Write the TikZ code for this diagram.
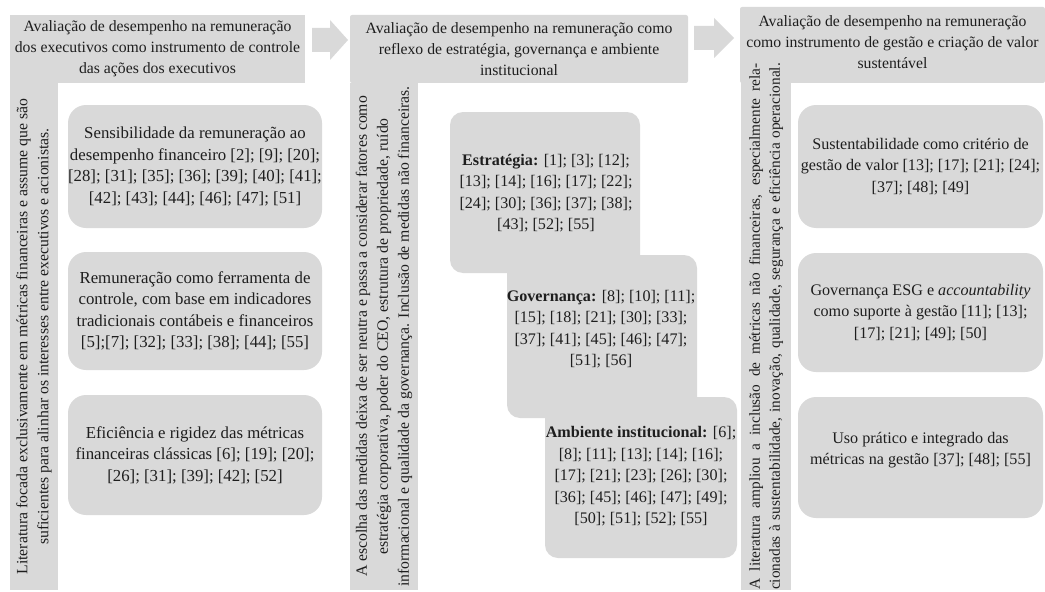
\documentclass[tikz,border=0pt]{standalone}
\usepackage{fontspec}
\setmainfont{Liberation Serif}
\newcommand{\pxu}{0.75pt}
\definecolor{boxgrey}{HTML}{D9D9D9}
\definecolor{inkgrey}{HTML}{1E1E1E}
\tikzset{
  base/.style={fill=boxgrey, text=inkgrey, inner sep=0pt, align=center,
    font=\fontsize{11.8}{15.75}\selectfont},
  header/.style={base, rounded corners=2*\pxu},
  bar/.style={base, rotate=90},
  rbox/.style={base, rounded corners=18*\pxu, font=\fontsize{12.1}{16.1}\selectfont},
  sbox/.style={base, rounded corners=13*\pxu, font=\fontsize{12.1}{16.1}\selectfont},
  txt/.style={text=inkgrey, inner sep=0pt, align=center, font=\fontsize{12.1}{16.1}\selectfont},
  bigtext/.style={font=\fontsize{12.6}{16.1}\selectfont},
  blockarrow/.style={fill=boxgrey}
}
\begin{document}
\begin{tikzpicture}[x=0.75pt, y=-0.75pt]
\useasboundingbox (0,0) rectangle (1045,592);

% ---------- column 1 ----------
\node[bar, minimum width=507*\pxu, minimum height=48*\pxu] (bar1) at (34,336.5)
  {Literatura focada exclusivamente em métricas financeiras e assume que são\\
   suficientes para alinhar os interesses entre executivos e acionistas.};
\node[header, rounded corners=0pt, minimum width=295*\pxu, minimum height=68*\pxu] (h1) at (157.5,49)
  {Avaliação de desempenho na remuneração\\dos executivos como instrumento de controle\\das ações dos executivos};

\node[rbox, bigtext, minimum width=254*\pxu, minimum height=123*\pxu] (b1) at (195,166.5)
  {Sensibilidade da remuneração ao\\desempenho financeiro [2]; [9]; [20];\\{}[28]; [31]; [35]; [36]; [39]; [40]; [41];\\{}[42]; [43]; [44]; [46]; [47]; [51]};
\node[rbox, bigtext, minimum width=254*\pxu, minimum height=118*\pxu] (b2) at (195,311)
  {Remuneração como ferramenta de\\controle, com base em indicadores\\tradicionais contábeis e financeiros\\{}[5];[7]; [32]; [33]; [38]; [44]; [55]};
\node[rbox, bigtext, minimum width=254*\pxu, minimum height=120*\pxu] (b3) at (195,455)
  {Eficiência e rigidez das métricas\\financeiras clássicas [6]; [19]; [20];\\{}[26]; [31]; [39]; [42]; [52]};

% arrow 1
\fill[blockarrow] (312,28) -- (330,28) -- (330,20) -- (348,40) -- (330,60) -- (330,52) -- (312,52) -- cycle;

% ---------- column 2 ----------
\node[bar, minimum width=507*\pxu, minimum height=68*\pxu] (bar2) at (384,336.5)
  {A escolha das medidas deixa de ser neutra e passa a considerar fatores como\\
   estratégia corporativa, poder do CEO, estrutura de propriedade, ruído\\
   informacional e qualidade da governança. Inclusão de medidas não financeiras.};
\node[header, minimum width=338*\pxu, minimum height=68*\pxu] (h2) at (519,49)
  {Avaliação de desempenho na remuneração como\\reflexo de estratégia, governança e ambiente\\institucional};

\node[sbox, minimum width=190*\pxu, minimum height=161*\pxu] (est) at (545,192.5) {};
\node[txt] (esttext) at (546,193)
  {\textbf{Estratégia:} [1]; [3]; [12];\\{}[13]; [14]; [16]; [17]; [22];\\{}[24]; [30]; [36]; [37]; [38];\\{}[43]; [52]; [55]};
\node[sbox, minimum width=190*\pxu, minimum height=163*\pxu] (gov) at (602,336.5) {};
\node[txt] (govtext) at (601,329)
  {\textbf{Governança:} [8]; [10]; [11];\\{}[15]; [18]; [21]; [30]; [33];\\{}[37]; [41]; [45]; [46]; [47];\\{}[51]; [56]};
\node[sbox, minimum width=192*\pxu, minimum height=161*\pxu] (amb) at (641,477.5) {};
\node[txt] (ambtext) at (641,476.5)
  {\textbf{Ambiente institucional:} [6];\\{}[8]; [11]; [13]; [14]; [16];\\{}[17]; [21]; [23]; [26]; [30];\\{}[36]; [45]; [46]; [47]; [49];\\{}[50]; [51]; [52]; [55]};

% arrow 2
\fill[blockarrow] (694,26) -- (714,26) -- (714,18) -- (734,38) -- (714,58) -- (714,50) -- (694,50) -- cycle;

% ---------- column 3 ----------
\node[header, minimum width=305*\pxu, minimum height=76*\pxu] (h3) at (892.5,45) {};
\node[txt, font=\fontsize{11.8}{15.75}\selectfont] (h3text) at (892.5,42)
  {Avaliação de desempenho na remuneração\\como instrumento de gestão e criação de valor\\sustentável};
\node[bar, minimum width=527*\pxu, minimum height=50*\pxu, font=\fontsize{11.5}{15}\selectfont] (bar3) at (766,326.5)
  {\makebox[395pt][s]{A literatura ampliou a inclusão de métricas não financeiras, especialmente rela-}\\
   \makebox[395pt][s]{cionadas à sustentabilidade, inovação, qualidade, segurança e eficiência operacional.}};

\node[rbox, minimum width=245*\pxu, minimum height=123*\pxu] (c1) at (920.5,166.5)
  {Sustentabilidade como critério de\\gestão de valor [13]; [17]; [21]; [24];\\{}[37]; [48]; [49]};
\node[rbox, minimum width=245*\pxu, minimum height=119*\pxu] (c2) at (920.5,312.5)
  {Governança ESG e \textit{accountability}\\como suporte à gestão [11]; [13];\\{}[17]; [21]; [49]; [50]};
\node[rbox, minimum width=245*\pxu, minimum height=121*\pxu] (c3) at (920.5,457.5) {};
\node[txt] (c3text) at (920.5,450)
  {Uso prático e integrado das\\métricas na gestão [37]; [48]; [55]};
\end{tikzpicture}
\end{document}
